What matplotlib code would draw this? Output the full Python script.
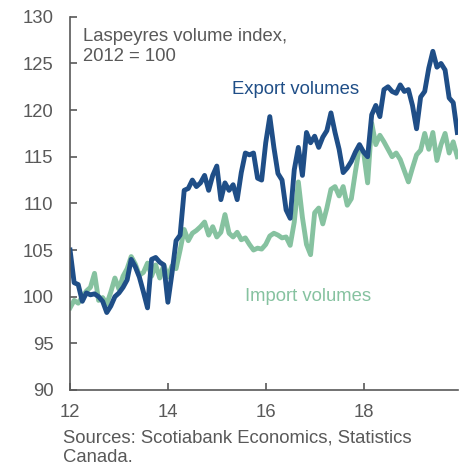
import numpy as np
import matplotlib
matplotlib.use("Agg")
import matplotlib.pyplot as plt

plt.rcParams['font.family'] = ['Liberation Sans', 'DejaVu Sans']

# monthly, Jan 2012 onwards (2012 = 100)
exports = [
    105.0, 101.5, 101.3, 99.5, 100.4, 100.2, 100.3, 100.0, 99.5, 98.3, 99.0, 100.0,
    100.4, 101.0, 101.8, 104.0, 103.2, 102.1, 100.5, 98.8, 104.0, 104.2, 103.7, 103.4,
    99.4, 102.5, 106.0, 106.6, 111.4, 111.6, 112.5, 111.8, 112.2, 113.0, 111.4, 113.0,
    114.0, 110.4, 112.2, 111.4, 112.0, 110.4, 113.3, 115.4, 115.2, 115.4, 112.7, 112.5,
    116.5, 119.3, 116.0, 113.2, 112.5, 109.3, 108.4, 113.6, 116.0, 113.0, 117.6, 116.5,
    117.2, 116.0, 117.1, 117.8, 119.7, 117.6, 115.8, 113.3, 113.8, 114.5, 115.5, 116.3,
    115.5, 115.0, 119.5, 120.5, 119.3, 122.2, 122.5, 122.0, 121.8, 122.7, 122.0, 122.2,
    120.5, 118.0, 121.4, 122.0, 124.5, 126.3, 124.6, 125.0, 124.3, 121.3, 120.8, 117.6,
]
imports = [
    98.8, 99.6, 99.3, 100.0, 100.6, 101.0, 102.5, 99.6, 99.9, 99.2, 100.5, 102.0,
    100.8, 102.2, 103.0, 104.3, 103.5, 102.3, 102.6, 103.6, 102.2, 103.4, 102.0, 103.4,
    102.1, 103.3, 103.0, 105.0, 107.2, 106.0, 106.8, 107.1, 107.5, 108.0, 106.6, 107.5,
    106.4, 106.9, 108.8, 106.8, 106.4, 106.9, 106.1, 106.3, 105.6, 105.0, 105.2, 105.1,
    105.6, 106.5, 106.8, 106.6, 106.3, 106.4, 105.5, 108.0, 112.3, 108.5, 105.6, 104.5,
    109.0, 109.5, 107.8, 109.5, 111.5, 111.8, 110.8, 111.8, 109.8, 110.5, 113.4, 116.1,
    115.5, 112.2, 118.6, 116.3, 117.3, 116.6, 115.8, 115.0, 115.4, 114.7, 113.5, 112.3,
    113.8, 115.2, 115.7, 117.5, 115.8, 117.6, 114.6, 116.3, 117.5, 115.4, 116.6, 115.0,
]
x = 12 + np.arange(len(exports)) / 12.0

x_ticks = [12, 14, 16, 18]
y_ticks = [90, 95, 100, 105, 110, 115, 120, 125, 130]

grey = '#595959'
blue = '#1f4e87'
green = '#86c2a0'
fs = 13.3

fig = plt.figure(figsize=(4.64, 4.67), dpi=100)
ax = fig.add_axes([0.151, 0.165, 0.836, 0.799])

ax.plot(x, imports, color=green, lw=3.5, solid_joinstyle='round')
ax.plot(x, exports, color=blue, lw=3.5, solid_joinstyle='round')

ax.set_xlim(12, 19.93)
ax.set_ylim(90, 130)
ax.set_xticks(x_ticks)
ax.set_xticklabels([str(t) for t in x_ticks])
ax.set_yticks(y_ticks)

for s in ['top', 'right']:
    ax.spines[s].set_visible(False)
for s in ['left', 'bottom']:
    ax.spines[s].set_color(grey)
    ax.spines[s].set_linewidth(1.2)
ax.tick_params(direction='in', length=5, width=1.2, color=grey,
               labelcolor=grey, labelsize=fs)
ax.tick_params(axis='y', pad=12)
ax.tick_params(axis='x', pad=10)

ax.text(12.27, 128.8, 'Laspeyres volume index,\n2012 = 100', color=grey,
        fontsize=fs, va='top', ha='left', linespacing=1.2)
ax.text(15.32, 122.2, 'Export volumes', color=blue, fontsize=fs, va='center')
ax.text(15.58, 100.0, 'Import volumes', color=green, fontsize=fs, va='center')

fig.text(0.136, 0.081, 'Sources: Scotiabank Economics, Statistics\nCanada.',
         color=grey, fontsize=fs, va='top', ha='left', linespacing=1.25)

fig.savefig('out.png', dpi=100)
